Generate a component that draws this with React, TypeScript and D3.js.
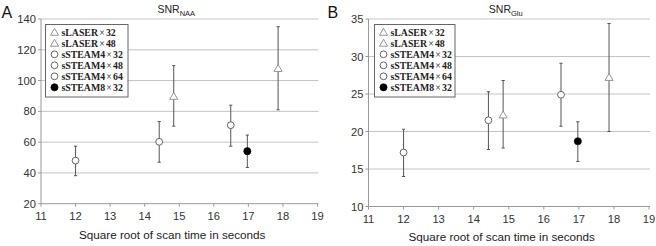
import React from "react";
import * as d3 from "d3";

const seriesNames = ["sLASER", "sLASER", "sSTEAM4", "sSTEAM4", "sSTEAM4", "sSTEAM8"];
const seriesAvg = ["32", "48", "32", "48", "64", "32"];
const seriesShape = ["tri", "tri", "circle", "circle", "circle", "dot"];
const xVals = [14.84, 17.86, 12, 14.42, 16.49, 16.97];

const naaMean = [89.7, 107.8, 48, 60.2, 71, 54.1];
const naaLow = [70.4, 81, 38.2, 47, 57.4, 43.5];
const naaHigh = [109.7, 135, 57.4, 73.4, 84, 64.6];

const gluMean = [22.2, 27.2, 17.2, 21.5, 24.9, 18.7];
const gluLow = [17.8, 20, 14.0, 17.6, 20.7, 16.0];
const gluHigh = [26.8, 34.4, 20.3, 25.3, 29.1, 21.3];

const xTicks = [11, 12, 13, 14, 15, 16, 17, 18, 19];
const naaTicks = [20, 40, 60, 80, 100, 120, 140];
const gluTicks = [10, 15, 20, 25, 30, 35];

const SANS = "'Liberation Sans', Arial, Helvetica, sans-serif";
const SERIF = "'Liberation Serif', 'Times New Roman', serif";

function Marker({ shape, cx, cy }: { shape: string; cx: number; cy: number }) {
  if (shape === "tri") {
    const s = d3.symbol().type(d3.symbolTriangle).size(28)();
    return <path d={s as string} transform={`translate(${cx},${cy + 0.6})`} fill="#fff" stroke="#8a8a8a" strokeWidth={0.9} />;
  }
  if (shape === "circle") {
    return <circle cx={cx} cy={cy} r={3.4} fill="#fff" stroke="#555" strokeWidth={0.9} />;
  }
  return <circle cx={cx} cy={cy} r={3.6} fill="#000" stroke="#000" strokeWidth={0.6} />;
}

function Panel(props: {
  letter: string;
  sub: string;
  ox: number;
  x0: number;
  x1: number;
  yTop: number;
  yBot: number;
  ticks: number[];
  mean: number[];
  low: number[];
  high: number[];
  legendX: number;
  legendW: number;
}) {
  const { letter, sub, ox, x0, x1, yTop, yBot, ticks, mean, low, high, legendX, legendW } = props;
  const x = d3.scaleLinear().domain([11, 19]).range([x0, x1]);
  const y = d3.scaleLinear().domain([ticks[0], ticks[ticks.length - 1]]).range([yBot, yTop]);
  const cap = 1.6;
  const titleX = (x0 + x1) / 2 - 3;
  return (
    <g>
      <text x={ox + 1.5} y={17.5} fontFamily={SANS} fontSize={16} fill="#111">{letter}</text>
      <text x={titleX} y={13} fontFamily={SANS} fontSize={10.5} fill="#222" textAnchor="middle">
        SNR<tspan fontSize={7.5} dy={2.5}>{sub}</tspan>
      </text>
      {ticks.map((t) => (
        <g key={"g" + t}>
          {t !== ticks[0] && <line x1={x0} x2={x1 + 1} y1={y(t)} y2={y(t)} stroke="#c4c4c4" strokeWidth={1} />}
          <line x1={x0 - 3} x2={x0} y1={y(t)} y2={y(t)} stroke="#999" strokeWidth={1} />
          <text x={x0 - 5} y={y(t) + 4} textAnchor="end" fontFamily={SANS} fontSize={11.2} fill="#333">{t}</text>
        </g>
      ))}
      <line x1={x0} x2={x0} y1={yTop} y2={yBot} stroke="#999" strokeWidth={1} />
      <line x1={x0} x2={x1 + 1} y1={yBot} y2={yBot} stroke="#999" strokeWidth={1} />
      {xTicks.map((t) => (
        <g key={"x" + t}>
          <line x1={x(t)} x2={x(t)} y1={yBot} y2={yBot + 3} stroke="#999" strokeWidth={1} />
          <text x={x(t)} y={yBot + 16} textAnchor="middle" fontFamily={SANS} fontSize={11.2} fill="#333">{t}</text>
        </g>
      ))}
      <text x={(x0 + x1) / 2 - 7} y={yBot + 34.8} textAnchor="middle" fontFamily={SANS} fontSize={11.7} fill="#222">
        Square root of scan time in seconds
      </text>
      {xVals.map((xv, i) => (
        <g key={"e" + i}>
          <line x1={x(xv)} x2={x(xv)} y1={y(low[i])} y2={y(high[i])} stroke="#555" strokeWidth={1} />
          <line x1={x(xv) - cap} x2={x(xv) + cap} y1={y(low[i])} y2={y(low[i])} stroke="#555" strokeWidth={1} />
          <line x1={x(xv) - cap} x2={x(xv) + cap} y1={y(high[i])} y2={y(high[i])} stroke="#555" strokeWidth={1} />
        </g>
      ))}
      {xVals.map((xv, i) => (
        <Marker key={"m" + i} shape={seriesShape[i]} cx={x(xv)} cy={y(mean[i])} />
      ))}
      <rect x={legendX} y={24.5} width={legendW} height={72.5} fill="#fff" stroke="#666" strokeWidth={1} />
      {seriesNames.map((n, i) => {
        const cy = 32.3 + i * 11;
        return (
          <g key={"l" + i}>
            <Marker shape={seriesShape[i]} cx={legendX + 9} cy={cy} />
            <text x={legendX + 16} y={cy + 3.5} fontFamily={SERIF} fontSize={9.8} fontWeight="bold" fill="#222">
              {n}<tspan fontWeight="normal" dx={1.2}>×</tspan><tspan dx={1.2}>{seriesAvg[i]}</tspan>
            </text>
          </g>
        );
      })}
    </g>
  );
}

export default function App() {
  return (
    <svg width={656} height={246} style={{ position: "absolute", left: 0, top: 0, background: "#fff" }}>
      <rect x={0} y={0} width={656} height={246} fill="#fff" />
      <Panel letter="A" sub="NAA" ox={0} x0={41} x1={317.5} yTop={19} yBot={203.7} ticks={naaTicks}
        mean={naaMean} low={naaLow} high={naaHigh} legendX={45.5} legendW={82.5} />
      <Panel letter="B" sub="Glu" ox={326} x0={368.5} x1={649} yTop={19} yBot={206.5} ticks={gluTicks}
        mean={gluMean} low={gluLow} high={gluHigh} legendX={374.5} legendW={80.5} />
    </svg>
  );
}
